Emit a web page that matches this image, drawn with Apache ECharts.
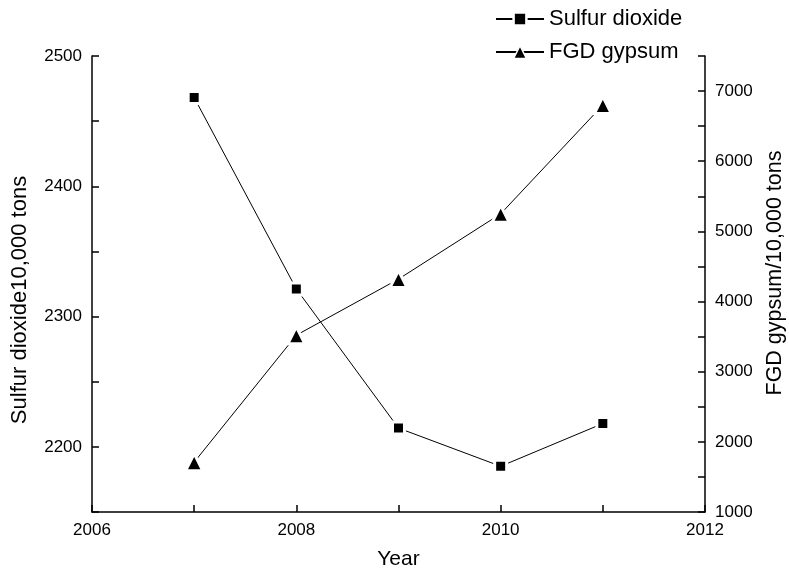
<!DOCTYPE html>
<html>
<head>
<meta charset="utf-8">
<script src="https://cdn.jsdelivr.net/npm/echarts@6/dist/echarts.min.js"></script>
<style>
html,body{margin:0;padding:0;background:#fff;}
#chart{width:789px;height:574px;}
</style>
</head>
<body>
<div id="chart"></div>
<script>
var years = [2007, 2008, 2009, 2010, 2011];
var sulfurDioxide = [2468.1, 2321.2, 2214.4, 2185.1, 2217.9];
var fgdGypsum = [1710, 3520, 4320, 5250, 6800];
var seriesNames = ['Sulfur dioxide', 'FGD gypsum'];
var xTitle = 'Year';
var yLeftTitle = 'Sulfur dioxide10,000 tons';
var yRightTitle = 'FGD gypsum/10,000 tons';

var FONT = 'Liberation Sans';
var chart = echarts.init(document.getElementById('chart'), null, {renderer: 'canvas'});

function pairs(xs, ys) { return xs.map(function (x, i) { return [x, ys[i]]; }); }

var axisLine = {show: true, lineStyle: {color: '#000', width: 1.5}};
var tick = {show: true, inside: true, length: 7, lineStyle: {color: '#000', width: 1.5}};
var option = {
  backgroundColor: '#fff',
  animation: false,
  textStyle: {fontFamily: FONT},
  grid: {left: 92, right: 84, top: 56, bottom: 62, containLabel: false, outerBoundsMode: 'none'},
  legend: {
    orient: 'vertical',
    left: 490,
    top: 3,
    itemWidth: 48,
    itemHeight: 16,
    itemGap: 11,
    textStyle: {fontFamily: FONT, fontSize: 22, color: '#000'},
    data: [
      {name: seriesNames[0], itemStyle: {borderWidth: 2.5, borderColor: '#fff'}},
      {name: seriesNames[1], itemStyle: {borderWidth: 1.5, borderColor: '#fff'}}
    ]
  },
  graphic: [{
    type: 'text',
    x: 20, y: 300,
    rotation: Math.PI / 2,
    style: {text: yLeftTitle, font: '22px "Liberation Sans"', fill: '#000', align: 'center', verticalAlign: 'middle'}
  }, {
    type: 'text',
    x: 775, y: 273,
    rotation: Math.PI / 2,
    style: {text: yRightTitle, font: '21.5px "Liberation Sans"', fill: '#000', align: 'center', verticalAlign: 'middle'}
  }],
  xAxis: {
    type: 'value',
    min: 2006, max: 2012, interval: 1,
    name: xTitle, nameLocation: 'middle', nameGap: 37,
    nameTextStyle: {fontFamily: FONT, fontSize: 21, color: '#000'},
    axisLine: axisLine,
    axisTick: tick,
    axisLabel: {
      fontFamily: FONT, fontSize: 17, color: '#000', margin: 10,
      formatter: function (v) { return v % 2 === 0 ? String(v) : ''; }
    },
    splitLine: {show: false}
  },
  yAxis: [{
    type: 'value',
    position: 'left',
    min: 2150, max: 2500, interval: 50,
    axisLine: axisLine,
    axisTick: tick,
    axisLabel: {
      fontFamily: FONT, fontSize: 17, color: '#000', margin: 10,
      formatter: function (v) { return (v % 100 === 0) ? String(v) : ''; }
    },
    splitLine: {show: false}
  }, {
    type: 'value',
    position: 'right',
    min: 1000, max: 7500, interval: 500,
    axisLine: axisLine,
    axisTick: tick,
    axisLabel: {
      fontFamily: FONT, fontSize: 17, color: '#000', margin: 10,
      formatter: function (v) { return (v % 1000 === 0) ? String(v) : ''; }
    },
    splitLine: {show: false}
  }],
  series: [{
    name: seriesNames[0],
    type: 'line',
    yAxisIndex: 0,
    data: pairs(years, sulfurDioxide),
    symbol: 'rect',
    symbolSize: 12,
    lineStyle: {color: '#000', width: 1},
    itemStyle: {color: '#000', borderColor: '#fff', borderWidth: 3},
    z: 3
  }, {
    name: seriesNames[1],
    type: 'line',
    yAxisIndex: 1,
    data: pairs(years, fgdGypsum),
    symbol: 'triangle',
    symbolSize: 17,
    lineStyle: {color: '#000', width: 1},
    itemStyle: {color: '#000', borderColor: '#fff', borderWidth: 3},
    z: 3
  }]
};
chart.setOption(option);
</script>
</body>
</html>
